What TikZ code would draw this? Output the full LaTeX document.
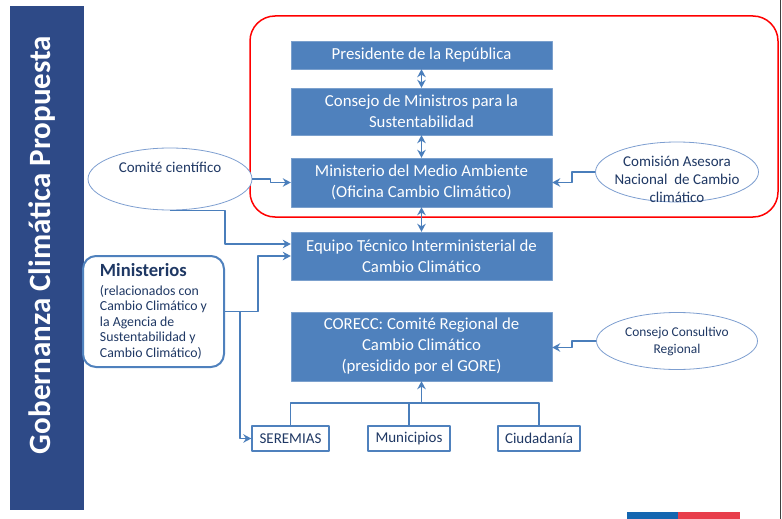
\documentclass[tikz,border=0pt]{standalone}
\usepackage{fontspec}
\setmainfont{Carlito}
\usetikzlibrary{shapes.geometric,arrows.meta}
\definecolor{sidebar}{RGB}{46,74,135}
\definecolor{boxblue}{RGB}{79,129,189}
\definecolor{linkblue}{RGB}{74,126,187}
\definecolor{ovalline}{RGB}{125,158,208}
\definecolor{darktext}{RGB}{31,56,100}
\definecolor{flagblue}{RGB}{20,102,176}
\definecolor{flagred}{RGB}{232,62,75}
\tikzset{
  bluebox/.style={fill=boxblue,draw=boxblue!75!white,text=white,minimum width=261,align=center,
    font=\fontsize{16.8}{21}\selectfont},
  whitebox/.style={fill=white,draw=boxblue,line width=1.4pt,text=darktext,minimum height=25,
    font=\fontsize{15}{17}\selectfont},
  oval/.style={ellipse,draw=ovalline,line width=0.8pt,fill=white,text=darktext,align=center,inner sep=0pt},
  conn/.style={draw=linkblue,line width=1.8pt,->},
  link/.style={draw=linkblue,line width=1.8pt}
}
\begin{document}
\begin{tikzpicture}[x=1pt,y=-1pt,>={Stealth[length=8pt,width=8.5pt]},line join=round]
	\useasboundingbox (0,0) rectangle (782,519);
	\fill[sidebar] (10,6) rectangle (84,510);
	\node[rotate=90,text=white,font=\fontsize{31}{36}\selectfont\bfseries] (titulo) at (42,245) {Gobernanza Climática Propuesta};
	\draw[gray!50!black,line width=1pt] (780,0) -- (780,519);
	\draw[red,line width=1.5pt,rounded corners=25] (250,16) rectangle (778,217);

	\node[bluebox,minimum height=28] (presidente) at (421.5,55) {Presidente de la República};
	\node[bluebox,minimum height=47] (consejo) at (421.5,111.5) {Consejo de Ministros para la\\Sustentabilidad};
	\node[bluebox,minimum height=49] (minma) at (421.5,182.5) {Ministerio del Medio Ambiente\\(Oficina Cambio Climático)};
	\node[bluebox,minimum height=48] (equipo) at (421.5,256) {Equipo Técnico Interministerial de\\Cambio Climático};
	\node[bluebox,minimum height=69] (corecc) at (421.5,346.5) {CORECC: Comité Regional de\\Cambio Climático\\(presidido por el GORE)};

	\node[whitebox,minimum width=77] (seremias) at (290.5,438.5) {SEREMIAS};
	\node[whitebox,minimum width=82] (municipios) at (409,438.5) {Municipios};
	\node[whitebox,minimum width=82] (ciudadania) at (539,438.5) {Ciudadanía};

	\node[oval,minimum width=164,minimum height=62,
		label={[text=darktext,font=\fontsize{15}{17}\selectfont,yshift=12pt]center:Comité científico}] (comite) at (170,179) {};
	\node[oval,minimum width=163,minimum height=60,
		label={[text=darktext,align=center,font=\fontsize{15}{18}\selectfont,yshift=-7pt]center:Comisión Asesora\\Nacional\ \ de Cambio\\climático}] (comision) at (677,172) {};
	\node[oval,minimum width=161,minimum height=57,font=\fontsize{13.4}{17}\selectfont] (consultivo) at (677,341) {Consejo Consultivo\\Regional};

	\node[draw=boxblue,line width=2pt,rounded corners=13,fill=white,minimum width=141,minimum height=111,
		align=left,text=darktext,font=\fontsize{13.8}{15.6}\selectfont] (ministerios) at (153.5,311.5)
		{{\fontsize{18.6}{20}\selectfont\bfseries Ministerios}\\[3pt](relacionados con\\Cambio Climático y\\la Agencia de\\Sustentabilidad y\\Cambio Climático)};

	\draw[conn,<->] (presidente) -- (consejo);
	\draw[conn,<->] (consejo) -- (minma);
	\draw[conn,<->] (minma) -- (equipo);

	\draw[conn] (comite.east) -- ++(18,0) |- (minma.west);
	\draw[conn] (comite.south) -- ++(55,0) |- ([yshift=12pt]equipo.west);
	\draw[conn] (ministerios.east) -- ++(33,0) |- (equipo.west);
	\draw[conn] ([xshift=15pt]ministerios.east) |- (seremias.west);
	\draw[conn] (comision.west) -- ++(-23,0) |- (minma.east);
	\draw[conn] (consultivo.west) -- ++(-24,0) |- ([yshift=-1pt]corecc.east);

	\coordinate (bar) at ([yshift=22pt]seremias.north);
	\draw[link] (seremias.north) -- (bar) -| (ciudadania.north);
	\draw[link] (municipios.north) -- (municipios.north |- bar);
	\draw[conn] (bar -| corecc.south) -- (corecc.south);

	\fill[flagblue] (627,512) rectangle (678,519);
	\fill[flagred] (678,512) rectangle (740,519);
\end{tikzpicture}
\end{document}
